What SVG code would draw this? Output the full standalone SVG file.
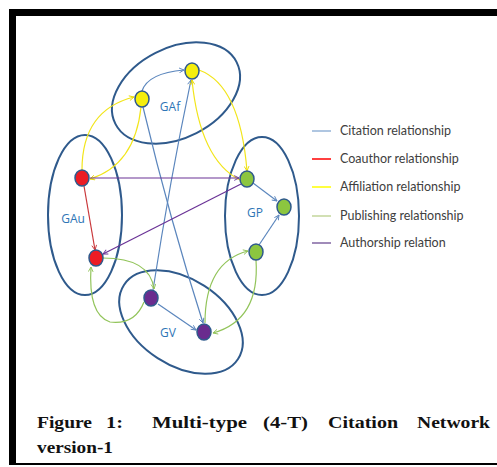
<svg xmlns="http://www.w3.org/2000/svg" width="497" height="467" viewBox="0 0 497 467">
<style>
.grp{fill:none;stroke:#2f5a8c;stroke-width:2}
.lbl{font-family:"Open Sans","Liberation Sans",sans-serif;font-size:12px;fill:#2e75b6}
.nd{stroke:#2f5a8c;stroke-width:1.5}
.cit{fill:none;stroke:#5b86bd;stroke-width:1.2;marker-end:url(#aC)}
.coa{fill:none;stroke:#c9373a;stroke-width:1.2;marker-end:url(#aR)}
.aff{fill:none;stroke:#f2e51a;stroke-width:1.2;marker-end:url(#aY)}
.pub{fill:none;stroke:#92c45a;stroke-width:1.2;marker-end:url(#aG)}
.aut{fill:none;stroke:#6a3296;stroke-width:1.2;marker-end:url(#aP)}
.leg{font-family:Lato,"Liberation Sans",sans-serif;font-size:12.5px;fill:#404040}
.cap{font-family:"Liberation Serif",serif;font-size:17px;font-weight:bold;fill:#111}
</style>
<defs>
<marker id="aC" viewBox="0 0 10 10" refX="9" refY="5" markerWidth="6" markerHeight="6" orient="auto" markerUnits="userSpaceOnUse"><path d="M1,1 L9,5 L1,9" fill="none" stroke="#5b86bd" stroke-width="1.5"/></marker>
<marker id="aR" viewBox="0 0 10 10" refX="9" refY="5" markerWidth="6" markerHeight="6" orient="auto" markerUnits="userSpaceOnUse"><path d="M1,1 L9,5 L1,9" fill="none" stroke="#c9373a" stroke-width="1.5"/></marker>
<marker id="aY" viewBox="0 0 10 10" refX="9" refY="5" markerWidth="6" markerHeight="6" orient="auto" markerUnits="userSpaceOnUse"><path d="M1,1 L9,5 L1,9" fill="none" stroke="#e8d800" stroke-width="1.5"/></marker>
<marker id="aG" viewBox="0 0 10 10" refX="9" refY="5" markerWidth="6" markerHeight="6" orient="auto" markerUnits="userSpaceOnUse"><path d="M1,1 L9,5 L1,9" fill="none" stroke="#92c45a" stroke-width="1.5"/></marker>
<marker id="aP" viewBox="0 0 10 10" refX="9" refY="5" markerWidth="6" markerHeight="6" orient="auto" markerUnits="userSpaceOnUse"><path d="M1,1 L9,5 L1,9" fill="none" stroke="#6a3296" stroke-width="1.5"/></marker>
</defs>
<rect width="497" height="467" fill="#fff"/>
<g id="frame">
<rect x="9" y="9" width="488" height="7" fill="#000"/>
<rect x="9" y="9" width="7" height="456" fill="#000"/>
<rect x="9" y="463" width="488" height="2" fill="#000"/>
</g>
<g id="groups">
<ellipse class="grp" cx="176" cy="93" rx="68" ry="45" transform="rotate(-27 176 93)"/>
<ellipse class="grp" cx="85" cy="215" rx="37" ry="80"/>
<ellipse class="grp" cx="262" cy="216" rx="37" ry="79"/>
<ellipse class="grp" cx="181" cy="322" rx="68" ry="43" transform="rotate(33 181 322)"/>
<text class="lbl" x="170" y="111" text-anchor="middle">GAf</text>
<text class="lbl" x="73" y="223" text-anchor="middle">GAu</text>
<text class="lbl" x="255" y="217" text-anchor="middle">GP</text>
<text class="lbl" x="168" y="337" text-anchor="middle">GV</text>
</g>
<g id="connectors">
<path class="cit" d="M142,91 Q148,73 184,70"/>
<path class="cit" d="M153,290 Q170,180 191,80"/>
<path class="cit" d="M143,107 Q170,220 203,323"/>
<path class="cit" d="M253,183 L277,201"/>
<path class="cit" d="M259,245 L279,215"/>
<path class="cit" d="M158,304 L196,330"/>
<path class="coa" d="M84,186 L95,250"/>
<path class="aff" d="M82,170 Q82,110 134,97"/>
<path class="aff" d="M141,107 Q135,165 90,179"/>
<path class="aff" d="M199,70 Q240,85 247,171"/>
<path class="aff" d="M240,180 Q200,160 192,80"/>
<path class="pub" d="M103,258 Q150,258 154,289"/>
<path class="pub" d="M144,302 Q135,325 110,322 Q88,315 91,267"/>
<path class="pub" d="M205,323 Q205,262 248,251"/>
<path class="pub" d="M256,260 Q260,320 213,333"/>
<path class="aut" d="M90,178 L239,178"/>
<path class="aut" d="M241,184 L103,254"/>
</g>
<g id="nodes">
<ellipse id="af1" class="nd" cx="142" cy="99" rx="7" ry="8" fill="#f5ee0c"/>
<ellipse id="af2" class="nd" cx="192" cy="71" rx="7" ry="8" fill="#f5ee0c"/>
<ellipse id="au1" class="nd" cx="82" cy="178" rx="7" ry="8" fill="#ec1c24"/>
<ellipse id="au2" class="nd" cx="96" cy="258" rx="7" ry="8" fill="#ec1c24"/>
<ellipse id="p1" class="nd" cx="247" cy="179" rx="7" ry="8" fill="#8cc63f"/>
<ellipse id="p2" class="nd" cx="284" cy="207" rx="7" ry="8" fill="#8cc63f"/>
<ellipse id="p3" class="nd" cx="256" cy="252" rx="7" ry="8" fill="#8cc63f"/>
<ellipse id="v1" class="nd" cx="151" cy="298" rx="7" ry="8" fill="#6a2c8e"/>
<ellipse id="v2" class="nd" cx="204" cy="332" rx="7" ry="8" fill="#6a2c8e"/>
</g>
<g id="legend">
<line x1="312" y1="131" x2="331" y2="131" stroke="#95b3d7" stroke-width="1.5"/>
<line x1="312" y1="159" x2="331" y2="159" stroke="#ff0000" stroke-width="1.5"/>
<line x1="312" y1="187" x2="331" y2="187" stroke="#ffff00" stroke-width="1.5"/>
<line x1="312" y1="216" x2="331" y2="216" stroke="#c3d69b" stroke-width="1.5"/>
<line x1="312" y1="243" x2="331" y2="243" stroke="#8064a2" stroke-width="1.5"/>
<text class="leg" x="340" y="135">Citation relationship</text>
<text class="leg" x="340" y="163">Coauthor relationship</text>
<text class="leg" x="340" y="191">Affiliation relationship</text>
<text class="leg" x="340" y="220">Publishing relationship</text>
<text class="leg" x="340" y="247">Authorship relation</text>
</g>
<g id="caption">
<text class="cap" x="37" y="428" textLength="55" lengthAdjust="spacingAndGlyphs">Figure</text>
<text class="cap" x="106" y="428" textLength="17" lengthAdjust="spacingAndGlyphs">1:</text>
<text class="cap" x="152" y="428" textLength="95" lengthAdjust="spacingAndGlyphs">Multi-type</text>
<text class="cap" x="263" y="428" textLength="45" lengthAdjust="spacingAndGlyphs">(4-T)</text>
<text class="cap" x="328" y="428" textLength="70" lengthAdjust="spacingAndGlyphs">Citation</text>
<text class="cap" x="417" y="428" textLength="73" lengthAdjust="spacingAndGlyphs">Network</text>
<text class="cap" x="37" y="453" textLength="76" lengthAdjust="spacingAndGlyphs">version-1</text>
</g>
</svg>
